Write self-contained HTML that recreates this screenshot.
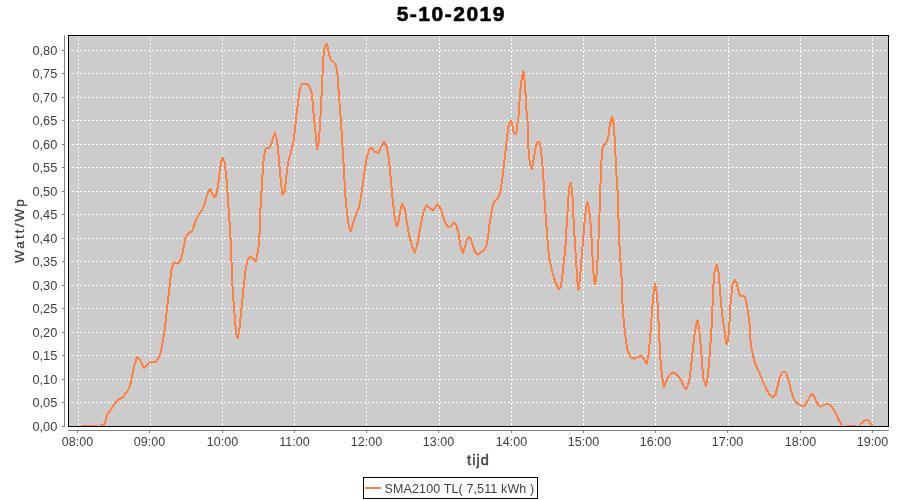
<!DOCTYPE html>
<html><head><meta charset="utf-8"><style>
html,body{margin:0;padding:0;background:#fff;}
svg{display:block;will-change:transform;}
text{font-family:"Liberation Sans",sans-serif;}
</style></head><body>
<svg width="900" height="500" viewBox="0 0 900 500">
<rect x="0" y="0" width="900" height="500" fill="#fff"/>
<text x="451.3" y="21" text-anchor="middle" font-size="21" font-weight="bold" letter-spacing="1.5" fill="#000" stroke="#000" stroke-width="0.6">5-10-2019</text>
<rect x="68" y="35" width="820" height="391" fill="#cccccc"/>
<g stroke="#fff" stroke-width="1" stroke-dasharray="2 2" shape-rendering="crispEdges">
<line x1="68" y1="402.5" x2="888" y2="402.5"/><line x1="68" y1="379.5" x2="888" y2="379.5"/><line x1="68" y1="355.5" x2="888" y2="355.5"/><line x1="68" y1="332.5" x2="888" y2="332.5"/><line x1="68" y1="308.5" x2="888" y2="308.5"/><line x1="68" y1="285.5" x2="888" y2="285.5"/><line x1="68" y1="261.5" x2="888" y2="261.5"/><line x1="68" y1="238.5" x2="888" y2="238.5"/><line x1="68" y1="214.5" x2="888" y2="214.5"/><line x1="68" y1="191.5" x2="888" y2="191.5"/><line x1="68" y1="167.5" x2="888" y2="167.5"/><line x1="68" y1="144.5" x2="888" y2="144.5"/><line x1="68" y1="120.5" x2="888" y2="120.5"/><line x1="68" y1="97.5" x2="888" y2="97.5"/><line x1="68" y1="73.5" x2="888" y2="73.5"/><line x1="68" y1="50.5" x2="888" y2="50.5"/><line x1="78.5" y1="35" x2="78.5" y2="426"/><line x1="150.5" y1="35" x2="150.5" y2="426"/><line x1="222.5" y1="35" x2="222.5" y2="426"/><line x1="294.5" y1="35" x2="294.5" y2="426"/><line x1="366.5" y1="35" x2="366.5" y2="426"/><line x1="439.5" y1="35" x2="439.5" y2="426"/><line x1="511.5" y1="35" x2="511.5" y2="426"/><line x1="583.5" y1="35" x2="583.5" y2="426"/><line x1="655.5" y1="35" x2="655.5" y2="426"/><line x1="728.5" y1="35" x2="728.5" y2="426"/><line x1="800.5" y1="35" x2="800.5" y2="426"/><line x1="872.5" y1="35" x2="872.5" y2="426"/>
</g>
<path d="M82,425.5 L97.5,425.5 M100,425.5 L103.8,425.3 L105.8,420.5 L107,415 L108.6,412.5 L110.6,410 L113,406 L116,402 L119,399 L122,398 L124.5,395 L127.5,391 L129.5,387 L131,382 L131.6,378 L134,367 L137,356.4 L140,360 L144,368.4 L149,362.4 L156,362 L160,355 L162,346 L164,334 L164.6,330.8 L167,309 L169.4,287.6 L171.3,270.8 L173.7,262.4 L177.8,263.6 L180.9,260 L183.3,249.2 L185.7,237.2 L188.6,232.9 L192.2,231.2 L193,229 L196,220 L199,214 L202.6,209 L205,203 L207.4,194 L210,188.6 L212.6,194 L214.6,197.4 L216,196 L218,186 L219.4,174 L221,162 L222.6,157.6 L224.6,162 L226.6,180 L228,200 L229.4,220 L230.6,240 L231.3,254 L231.8,273 L233,294.8 L234.7,316.4 L236.1,333.2 L237.8,338.5 L239.5,328.4 L241.4,309.2 L243.8,285.2 L245.7,268.4 L248.1,258.8 L250.5,255.9 L253.4,260 L255.8,261.2 L258.2,250.4 L259.4,237.2 L260,217.5 L261.25,195 L262.5,175 L263.75,157.5 L265.5,148.75 L269.5,147.5 L272,142.5 L273,137 L275,133 L277,140 L278.75,157.5 L280,172.5 L281.25,185 L282.5,195 L284.5,192.5 L286.25,177.5 L288,162.5 L291.25,151.25 L293.75,140 L295.4,125 L296.7,112.4 L298,103.4 L299,94.4 L300.3,87.2 L302.1,84 L304.8,83.6 L307.5,84.5 L309.8,87.2 L311.6,92.6 L312.4,99.8 L313.4,112.4 L314.5,122.5 L316.25,140 L317,148.75 L318.75,142.5 L320,125 L321,107 L321.9,87.2 L322.8,68.3 L323.7,53 L325,46.2 L326.8,43.6 L328.2,48.5 L329.1,54.8 L330.9,60.2 L333.6,62 L335.8,64.7 L337.2,71 L338.1,83.6 L339,96.2 L340.4,114.2 L341.2,125 L342.6,148.2 L343.9,169 L345.2,195 L347.3,215.7 L349.1,227.4 L350.9,231.3 L353,223.5 L355.6,215.7 L358.7,207.9 L361.3,194.9 L363.9,176.8 L366,161.2 L368.6,150.8 L371.7,147.7 L375.1,152.1 L378.4,152.9 L381.6,145.6 L384.2,141.7 L386.8,146.9 L388.8,158.6 L390.6,176.8 L392.5,197.5 L394.5,215.7 L396.6,226.6 L398.4,222.2 L400.3,210.5 L402.3,204 L404.4,207.9 L406.2,218.3 L408.8,233.9 L412.2,246.9 L414.8,252.6 L417.4,244.3 L420,228.7 L423.1,213.1 L426.2,205.3 L429.6,207.9 L432.7,210.6 L435.4,207 L438.1,204.3 L440.8,208.8 L443,216 L445.3,223.2 L448,226.8 L450.7,226.4 L453.4,222.8 L456.1,225 L458.4,232.2 L459.7,241.2 L461,248.4 L462.8,252.9 L465.1,246.6 L466.9,239.4 L468.7,236.7 L471,239.4 L473.2,246.6 L475.4,252.9 L477.7,254.7 L480.4,252.9 L483.6,250.2 L486.2,246.6 L488,237.6 L489.4,225 L490.8,216 L492.1,208.8 L493.9,202.5 L496.2,199.8 L498.4,197.1 L500.2,192.6 L501.1,187.2 L502,180 L502.8,174.8 L504.8,158 L507.3,135 L508.7,125.2 L510.7,120.3 L512.1,123.8 L513.2,130.8 L514.6,134.3 L516.3,133.6 L517.4,123.8 L518.5,116.8 L519.5,101.4 L520.2,92.3 L521.3,81.8 L522.3,74.8 L523.4,71.3 L524.1,77.6 L525.1,86 L525.8,100 L526.5,111.2 L527.5,121 L528.3,135 L528.5,149.2 L529.5,160.4 L530.6,166.8 L531.7,169.2 L533,163.6 L534.3,154.8 L535.9,146 L537.8,142 L539.4,142 L540.7,147.6 L541.8,158.8 L542.9,171.6 L543.9,186 L544.5,198.8 L545.2,210 L546.2,223 L547.7,242.8 L549.2,258.2 L552.1,271.4 L555.4,282.4 L558.7,289 L560.9,286.8 L563.1,269.2 L565.3,249.4 L566.8,223 L568.2,201 L569,187.6 L570.6,182.8 L571.7,187.6 L572.7,198.8 L573.4,216.4 L574.8,240.6 L576.3,264.8 L577.4,282.4 L578.5,290.1 L580,278 L581.8,256 L583.6,234 L585.1,216.4 L586.6,204.3 L587.4,202 L588.4,205.4 L590.2,218.6 L591.7,240.6 L592.8,262.6 L593.9,278 L595,284.6 L596.8,273.6 L598.3,245 L599.4,216.4 L600,195 L600.6,180.6 L601.3,162.6 L602.2,150.9 L603.1,145.5 L604.9,143.7 L606.7,141.9 L608,137.4 L609,132 L609.8,124.8 L610.8,120.3 L612.1,116.7 L613.4,122.1 L614.4,133.8 L615.2,150 L616.2,169.8 L617,184.2 L618,195 L618.4,214 L619,238 L620.4,260 L621.6,278 L622.5,304 L623.9,323.2 L625.6,337.6 L627.3,349.6 L630.4,357.3 L634,358.7 L637.6,357.3 L641.2,355.6 L644.1,359.2 L646.5,364 L648.4,356.8 L650.3,335.2 L652,311.2 L653.7,292 L655.1,283.6 L656.8,292 L658,311.2 L659.2,335.2 L660.4,359.2 L662.3,378.4 L664,386.8 L666.4,380.8 L669.5,374.8 L672.9,372.4 L676.7,374.1 L680.8,379.6 L683.9,386.8 L686.3,389.2 L689.2,381.6 L690.9,367.6 L692.3,355 L693.7,341 L695.1,331.2 L696.5,322.8 L697.6,320 L698.7,325.6 L700.1,338.2 L701.5,355 L702.5,369 L703.5,378.8 L705.7,385.8 L707.4,378.8 L708.8,366.2 L709.9,352.2 L710.9,336.8 L711.6,327 L712.3,311 L713,295.6 L713.7,280.2 L714.7,270.4 L715.8,267.6 L716.9,264.5 L717.9,268.3 L718.9,274.6 L720,291.4 L721.1,304 L722.1,313.8 L723.5,323.6 L724.2,328.4 L725.6,339.6 L726.7,344.5 L727.7,341 L729.1,331.2 L730.1,308.2 L731.2,297 L732.6,284.4 L734,281.6 L734.7,279.9 L736.5,282.3 L737.9,288.6 L739.3,294.2 L741,295.9 L744.5,295.9 L745.9,299.8 L746.9,305.4 L748,312.4 L749.4,322.2 L750.8,345.2 L752.9,355 L755,363.4 L757.8,369 L760.6,376 L763.4,383 L766.2,388.6 L767,390.8 L769.8,395 L772.6,397.1 L775.4,395 L777.5,386.6 L779.6,378.2 L781.7,372.6 L783.8,371.5 L785.9,372.6 L788,378.2 L790.1,386.6 L792.2,395 L795,401.3 L797.8,404.1 L801.3,405.5 L804.8,405.5 L807.6,400.6 L810.1,395.7 L812.1,393.6 L813.9,396.4 L816,400.6 L818.1,404.8 L820.5,406.9 L823,405.5 L825.8,404.1 L828.6,404.1 L831.4,406.2 L834.2,410.4 L837,416 L839.1,420.9 L842.5,425.5 M846,425.5 L856,425.5 M859,425.5 L862.5,422.2 L866,419.8 L868.5,420.8 L872.5,425.5" fill="none" stroke="#ff8040" stroke-width="2" stroke-linejoin="round" shape-rendering="crispEdges"/>
<rect x="68.5" y="35.5" width="820" height="391" fill="none" stroke="#000" stroke-width="1" shape-rendering="crispEdges"/>
<g stroke="#808080" stroke-width="1" shape-rendering="crispEdges">
<line x1="64.5" y1="35" x2="64.5" y2="427"/>
<line x1="68" y1="430.5" x2="889" y2="430.5"/>
<line x1="62" y1="426.5" x2="64" y2="426.5"/><line x1="62" y1="402.5" x2="64" y2="402.5"/><line x1="62" y1="379.5" x2="64" y2="379.5"/><line x1="62" y1="355.5" x2="64" y2="355.5"/><line x1="62" y1="332.5" x2="64" y2="332.5"/><line x1="62" y1="308.5" x2="64" y2="308.5"/><line x1="62" y1="285.5" x2="64" y2="285.5"/><line x1="62" y1="261.5" x2="64" y2="261.5"/><line x1="62" y1="238.5" x2="64" y2="238.5"/><line x1="62" y1="214.5" x2="64" y2="214.5"/><line x1="62" y1="191.5" x2="64" y2="191.5"/><line x1="62" y1="167.5" x2="64" y2="167.5"/><line x1="62" y1="144.5" x2="64" y2="144.5"/><line x1="62" y1="120.5" x2="64" y2="120.5"/><line x1="62" y1="97.5" x2="64" y2="97.5"/><line x1="62" y1="73.5" x2="64" y2="73.5"/><line x1="62" y1="50.5" x2="64" y2="50.5"/><line x1="77.5" y1="430" x2="77.5" y2="433"/><line x1="149.5" y1="430" x2="149.5" y2="433"/><line x1="222.5" y1="430" x2="222.5" y2="433"/><line x1="294.5" y1="430" x2="294.5" y2="433"/><line x1="366.5" y1="430" x2="366.5" y2="433"/><line x1="438.5" y1="430" x2="438.5" y2="433"/><line x1="511.5" y1="430" x2="511.5" y2="433"/><line x1="583.5" y1="430" x2="583.5" y2="433"/><line x1="655.5" y1="430" x2="655.5" y2="433"/><line x1="727.5" y1="430" x2="727.5" y2="433"/><line x1="800.5" y1="430" x2="800.5" y2="433"/><line x1="872.5" y1="430" x2="872.5" y2="433"/>
</g>
<g font-size="12.5" fill="#404040">
<text x="57.3" y="431" text-anchor="end" font-size="12.8">0,00</text><text x="57.3" y="407" text-anchor="end" font-size="12.8">0,05</text><text x="57.3" y="384" text-anchor="end" font-size="12.8">0,10</text><text x="57.3" y="360" text-anchor="end" font-size="12.8">0,15</text><text x="57.3" y="337" text-anchor="end" font-size="12.8">0,20</text><text x="57.3" y="313" text-anchor="end" font-size="12.8">0,25</text><text x="57.3" y="290" text-anchor="end" font-size="12.8">0,30</text><text x="57.3" y="266" text-anchor="end" font-size="12.8">0,35</text><text x="57.3" y="243" text-anchor="end" font-size="12.8">0,40</text><text x="57.3" y="219" text-anchor="end" font-size="12.8">0,45</text><text x="57.3" y="196" text-anchor="end" font-size="12.8">0,50</text><text x="57.3" y="172" text-anchor="end" font-size="12.8">0,55</text><text x="57.3" y="149" text-anchor="end" font-size="12.8">0,60</text><text x="57.3" y="125" text-anchor="end" font-size="12.8">0,65</text><text x="57.3" y="102" text-anchor="end" font-size="12.8">0,70</text><text x="57.3" y="78" text-anchor="end" font-size="12.8">0,75</text><text x="57.3" y="55" text-anchor="end" font-size="12.8">0,80</text>
<text x="77.5" y="446" text-anchor="middle">08:00</text><text x="149.5" y="446" text-anchor="middle">09:00</text><text x="222.5" y="446" text-anchor="middle">10:00</text><text x="294.5" y="446" text-anchor="middle">11:00</text><text x="366.5" y="446" text-anchor="middle">12:00</text><text x="438.5" y="446" text-anchor="middle">13:00</text><text x="511.5" y="446" text-anchor="middle">14:00</text><text x="583.5" y="446" text-anchor="middle">15:00</text><text x="655.5" y="446" text-anchor="middle">16:00</text><text x="727.5" y="446" text-anchor="middle">17:00</text><text x="800.5" y="446" text-anchor="middle">18:00</text><text x="872.5" y="446" text-anchor="middle">19:00</text>
</g>
<text x="478.5" y="465" text-anchor="middle" font-size="14.5" letter-spacing="1.1" stroke="#404040" stroke-width="0.45" fill="#404040">tijd</text>
<text transform="translate(24,230) rotate(-90)" text-anchor="middle" font-size="13.5" letter-spacing="2.1" stroke="#404040" stroke-width="0.3" fill="#404040">Watt/Wp</text>
<rect x="363.5" y="477.5" width="174" height="21" fill="#fff" stroke="#000" stroke-width="1" shape-rendering="crispEdges"/>
<line x1="365" y1="488" x2="381" y2="488" stroke="#ff8040" stroke-width="2" shape-rendering="crispEdges"/>
<text x="384.5" y="493" font-size="12.5" letter-spacing="0.13" fill="#404040">SMA2100 TL( 7,511 kWh )</text>
</svg>
</body></html>
